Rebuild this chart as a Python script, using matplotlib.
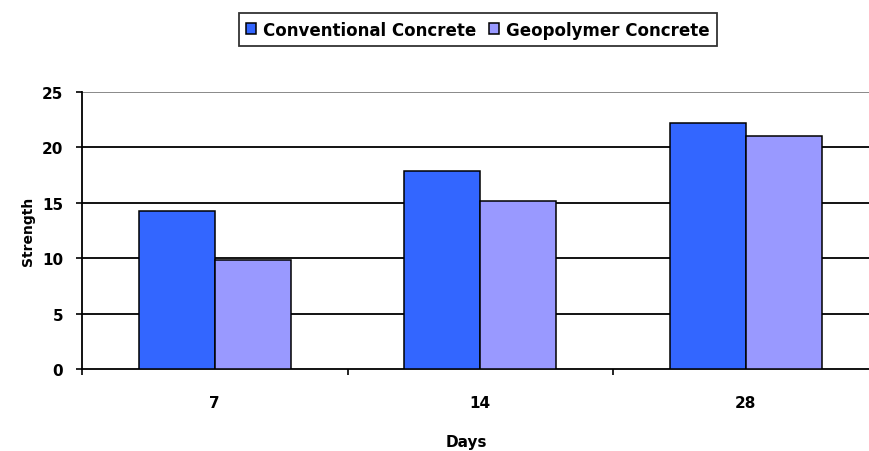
import matplotlib
matplotlib.use("Agg")
import matplotlib.pyplot as plt
import numpy as np

categories = ["7", "14", "28"]
conventional = [14.3, 17.9, 22.2]
geopolymer = [9.8, 15.2, 21.0]
series_names = ["Conventional Concrete", "Geopolymer Concrete"]
yticks = [0, 5, 10, 15, 20, 25]

plt.rcParams['font.family'] = ['DejaVu Sans']
plt.rcParams['font.weight'] = 'bold'

W, H = 869, 452
fig = plt.figure(figsize=(W / 100, H / 100), dpi=100)
left, right, top, bottom = 82, 878.5, 93, 370
ax = fig.add_axes([left / W, 1 - bottom / H, (right - left) / W, (bottom - top) / H])

x = np.arange(len(categories))
w = 0.286
ax.bar(x - w / 2, conventional, w, color="#3366FF", edgecolor="black", linewidth=1.1,
       label=series_names[0], zorder=3)
ax.bar(x + w / 2, geopolymer, w, color="#9999FF", edgecolor="black", linewidth=1.1,
       label=series_names[1], zorder=3)

ax.set_xlim(-0.5, 2.5)
ax.set_ylim(0, 25)
ax.set_yticks(yticks)
ax.set_yticklabels([str(t) for t in yticks], fontsize=11, fontweight='bold')
ax.set_xticks(x)
ax.set_xticklabels(categories, fontsize=11, fontweight='bold')
ax.tick_params(axis='x', length=0, pad=19)
ax.set_xticks([-0.5, 0.5, 1.5, 2.5], minor=True)
ax.tick_params(axis='x', which='minor', length=4, width=1.2, direction='out')
ax.tick_params(axis='y', length=4.5, width=1.2, direction='out', pad=9)

for t in yticks[1:]:
    ax.axhline(t, color="black" if t < 25 else "#808080", linewidth=1.3, zorder=1)

for s in ["top", "right"]:
    ax.spines[s].set_visible(False)
ax.spines["left"].set_linewidth(1.3)
ax.spines["bottom"].set_linewidth(1.3)

ax.set_ylabel("Strength", fontsize=10, fontweight='bold', labelpad=5)
ax.set_xlabel("Days", fontsize=11, fontweight='bold', labelpad=18)
ax.xaxis.set_label_coords((466 - left) / (right - left), -(442 - bottom) / (bottom - top))
ax.xaxis.label.set_verticalalignment('center')

leg = fig.legend(loc='center', bbox_to_anchor=(478 / W, 1 - 30.5 / H), ncol=2,
                 frameon=True, fancybox=False, edgecolor='black', fontsize=12,
                 handlelength=0.6, handleheight=0.6, handletextpad=0.4, columnspacing=0.8,
                 borderpad=0.45, borderaxespad=0)
leg.get_frame().set_linewidth(1.3)
for txt in leg.get_texts():
    txt.set_fontweight('bold')

fig.savefig("out.png", dpi=100)
